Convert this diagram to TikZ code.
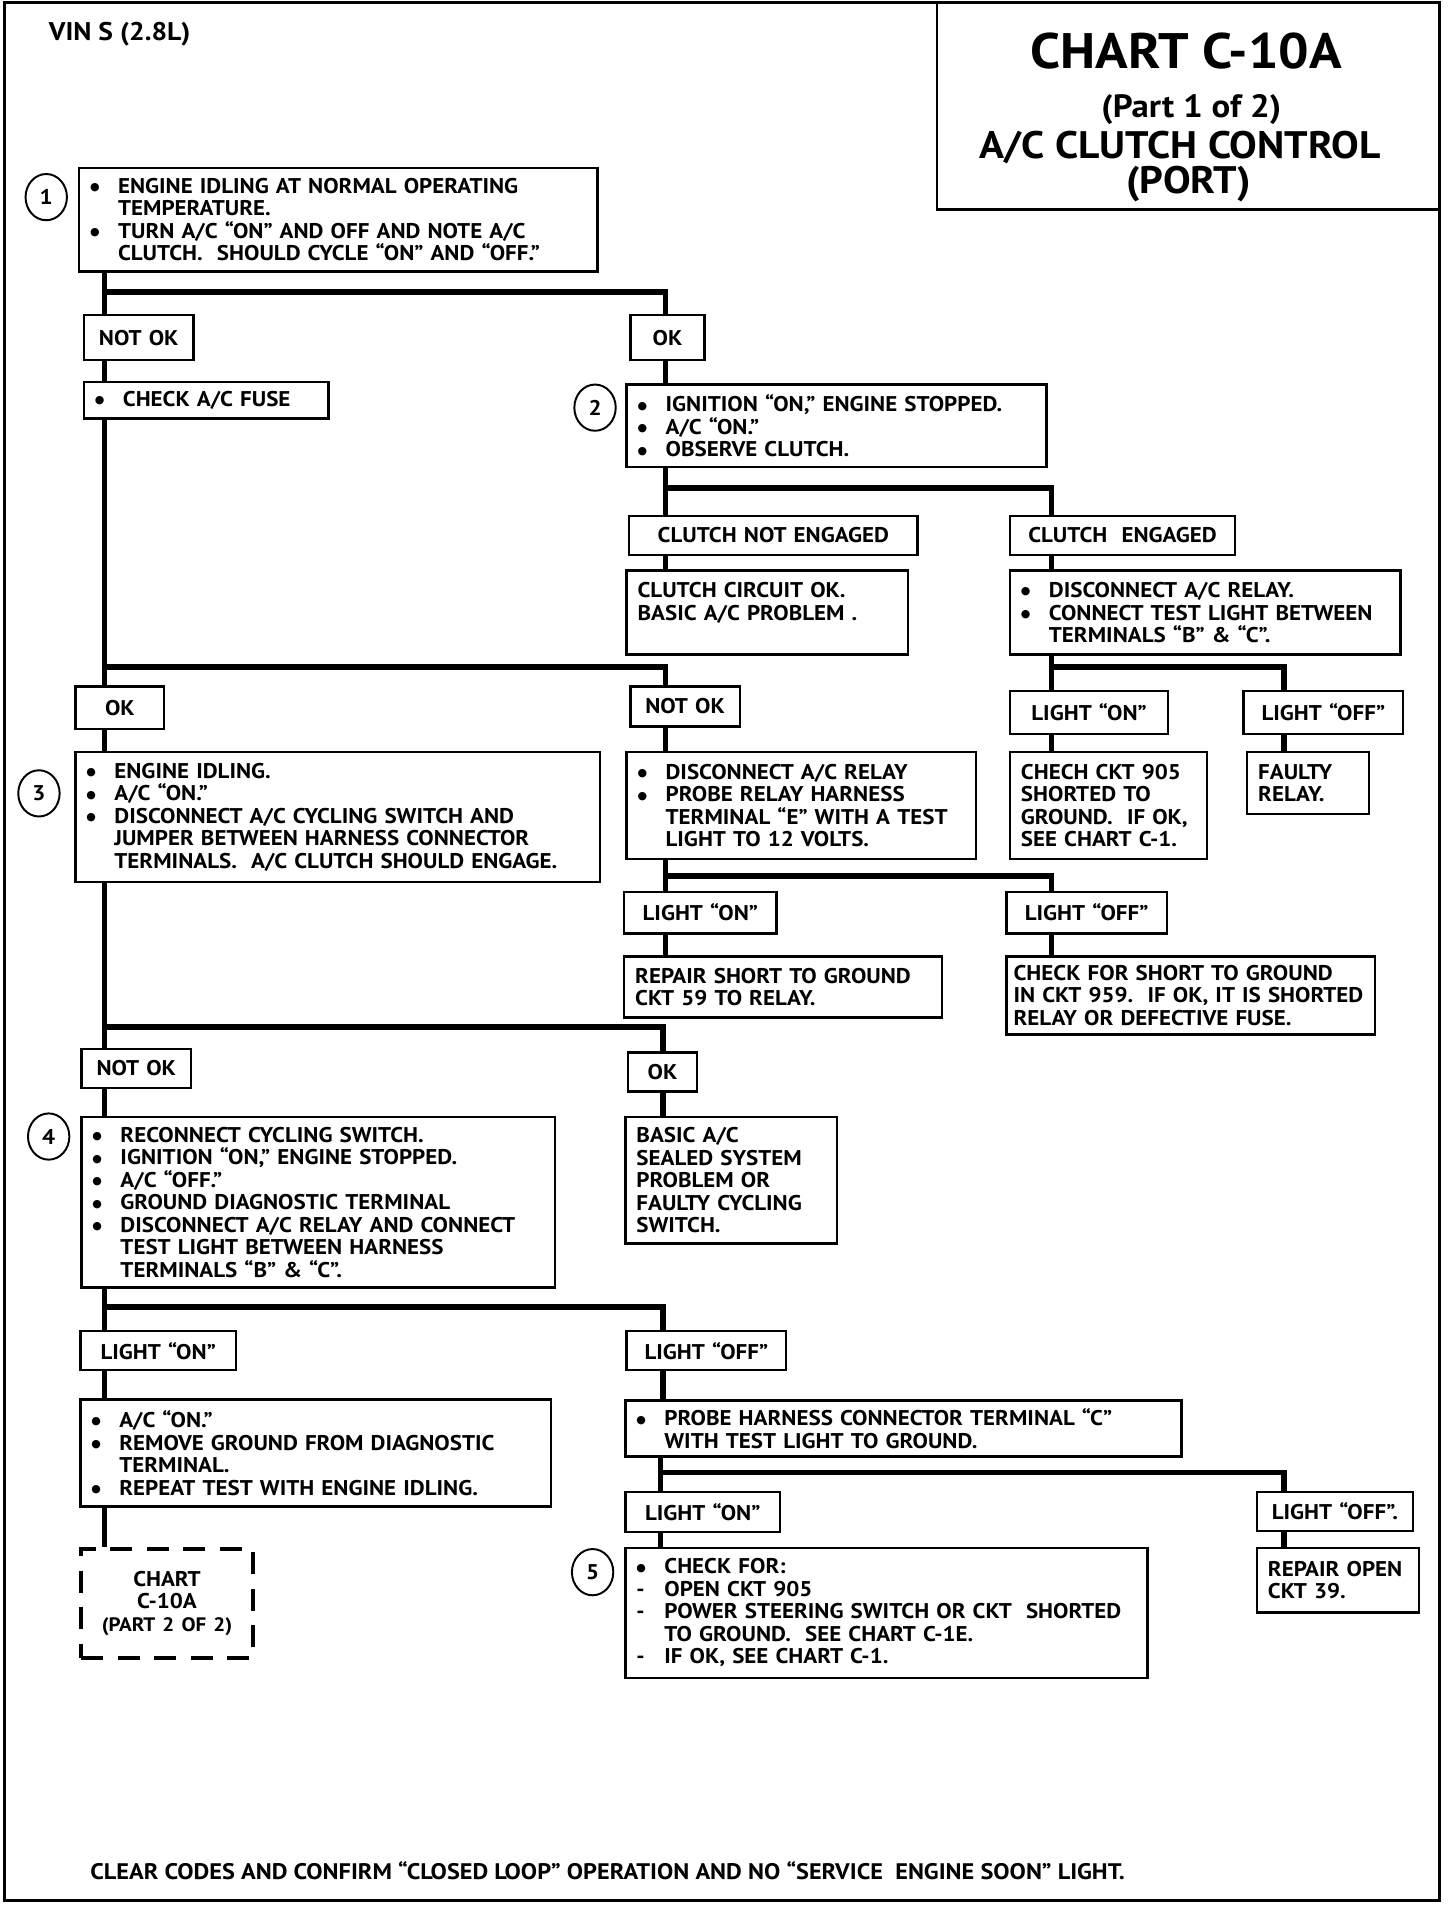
\documentclass[tikz,border=0pt]{standalone}
\usepackage{fontspec}
\setmainfont{PT Sans}[FakeStretch=1.08]
\newfontfamily\dotfont{DejaVu Sans}
\usetikzlibrary{shapes.geometric}
\newcommand{\bul}{\makebox[23pt][l]{\raisebox{2.2pt}{\dotfont\fontsize{9pt}{9pt}\selectfont ●}}}
\newcommand{\dsh}{\makebox[23pt][l]{-}}
\newcommand{\ind}{\hspace*{23pt}}
\newcommand{\boxfont}{\fontsize{17.5pt}{18.5pt}\selectfont\bfseries}
\tikzset{
  box/.style={draw, line width=2pt, fill=white, anchor=north west, align=left,
    inner xsep=9pt, inner ysep=0pt, font=\boxfont},
  lbl/.style={box, align=center},
  partbox/.style={lbl, line width=3.5pt, dash pattern=on 18pt off 12pt},
  trunk/.style={line width=4.5pt},
  num/.style={draw, ellipse, line width=1.6pt, minimum width=34pt, minimum height=38pt,
    inner sep=0pt, font=\boxfont},
  ttl/.style={inner sep=0pt, font=\bfseries\fontsize{#1}{#1}\selectfont},
}
\begin{document}
\begin{tikzpicture}[x=1pt,y=-1pt]
    \useasboundingbox (0,0) rectangle (1196,1568);
    \draw[line width=2.5pt] (4,2) rectangle (1183,1562);%外框
    \draw[line width=2pt] (770,2) rectangle (1183,172);
    \node[ttl=41pt] (t1) at (975,42) {CHART C-10A};
    \node[ttl=26.5pt] (t2) at (979,90) {(Part 1 of 2)};
    \node[ttl=31.5pt] (t3) at (970,121) {A/C CLUTCH CONTROL};
    \node[ttl=31.5pt] (t4) at (977,151) {(PORT)};
    \node[anchor=west,ttl=21pt] (vin) at (40,28) {VIN S (2.8L)};
    % 第一步
    \node[num] (c1) at (38,162) {1};
    \node[box, text width=408pt, minimum height=85pt] (s1) at (64,137) {\bul ENGINE IDLING AT NORMAL OPERATING\\ \ind TEMPERATURE.\\ \bul TURN A/C “ON” AND OFF AND NOTE A/C\\ \ind CLUTCH.\ \ SHOULD CYCLE “ON” AND “OFF.”};
    \node[lbl, text width=72pt, minimum height=37pt] (nok1) at (68,258) {NOT OK};
    \node[lbl, text width=43pt, minimum height=37pt] (ok1) at (517,258) {OK};
    \node[box, text width=183pt, minimum height=30pt] (fuse) at (68,313) {\bul CHECK A/C FUSE};
    % 第二步
    \node[num] (c2) at (489,335) {2};
    \node[box, text width=327pt, minimum height=68pt] (s2) at (514,315) {\bul IGNITION “ON,” ENGINE STOPPED.\\ \bul A/C “ON.”\\ \bul OBSERVE CLUTCH.};
    \node[lbl, text width=219pt, minimum height=32pt] (cne) at (516,423) {CLUTCH NOT ENGAGED};
    \node[lbl, text width=167pt, minimum height=32pt] (ce) at (829,423) {CLUTCH\ \ ENGAGED};
    \node[box, text width=213pt, minimum height=69pt] (cok) at (514,468) {CLUTCH CIRCUIT OK.\\ BASIC A/C PROBLEM .\\ \mbox{}};
    \node[box, text width=303pt, minimum height=69pt] (dr) at (829,468) {\bul DISCONNECT A/C RELAY.\\ \bul CONNECT TEST LIGHT BETWEEN\\ \ind TERMINALS “B” \& “C”.};
    \node[lbl, text width=112pt, minimum height=35pt] (lon1) at (829,567) {LIGHT “ON”};
    \node[lbl, text width=113pt, minimum height=35pt] (loff1) at (1021,567) {LIGHT “OFF”};
    \node[box, text width=144pt, minimum height=88pt] (chech) at (829,617) {CHECH CKT 905\\ SHORTED TO\\ GROUND.\ \ IF OK,\\ SEE CHART C-1.};
    \node[box, text width=82pt, minimum height=51pt] (faulty) at (1024,617) {FAULTY\\ RELAY.};
    % 第三步
    \node[lbl, text width=55pt, minimum height=35pt] (ok2) at (61,563) {OK};
    \node[lbl, text width=72pt, minimum height=33pt] (nok2) at (517,563) {NOT OK};
    \node[num] (c3) at (32,652) {3};
    \node[box, text width=413pt, minimum height=107pt] (s3) at (61,617) {\bul ENGINE IDLING.\\ \bul A/C “ON.”\\ \bul DISCONNECT A/C CYCLING SWITCH AND\\ \ind JUMPER BETWEEN HARNESS CONNECTOR\\ \ind TERMINALS.\ \ A/C CLUTCH SHOULD ENGAGE.};
    \node[box, text width=269pt, minimum height=88pt] (pr) at (514,617) {\bul DISCONNECT A/C RELAY\\ \bul PROBE RELAY HARNESS\\ \ind TERMINAL “E” WITH A TEST\\ \ind LIGHT TO 12 VOLTS.};
    \node[lbl, text width=107pt, minimum height=34pt] (lon2) at (512,732) {LIGHT “ON”};
    \node[lbl, text width=114pt, minimum height=34pt] (loff2) at (826,732) {LIGHT “OFF”};
    \node[box, text width=243pt, minimum height=50pt] (rs) at (512,785) {REPAIR SHORT TO GROUND\\ CKT 59 TO RELAY.};
    \node[box, inner xsep=6pt, text width=291pt, minimum height=64pt] (cfs) at (826,785) {CHECK FOR SHORT TO GROUND\\ IN CKT 959.\ \ IF OK, IT IS SHORTED\\ RELAY OR DEFECTIVE FUSE.};
    % 第四步
    \node[lbl, text width=72pt, minimum height=32pt] (nok3) at (66,861) {NOT OK};
    \node[lbl, text width=39pt, minimum height=32pt] (ok3) at (515,864) {OK};
    \node[num] (c4) at (40,934) {4};
    \node[box, text width=371pt, minimum height=140pt] (s4) at (66,917) {\bul RECONNECT CYCLING SWITCH.\\ \bul IGNITION “ON,” ENGINE STOPPED.\\ \bul A/C “OFF.”\\ \bul GROUND DIAGNOSTIC TERMINAL\\ \bul DISCONNECT A/C RELAY AND CONNECT\\ \ind TEST LIGHT BETWEEN HARNESS\\ \ind TERMINALS “B” \& “C”.};
    \node[box, text width=156pt, minimum height=104pt] (basic) at (513,917) {BASIC A/C\\ SEALED SYSTEM\\ PROBLEM OR\\ FAULTY CYCLING\\ SWITCH.};
    \node[lbl, text width=110pt, minimum height=32pt] (lon3) at (65,1093) {LIGHT “ON”};
    \node[lbl, text width=113pt, minimum height=32pt] (loff3) at (514,1093) {LIGHT “OFF”};
    \node[box, text width=369pt, minimum height=88pt] (acon) at (65,1149) {\bul A/C “ON.”\\ \bul REMOVE GROUND FROM DIAGNOSTIC\\ \ind TERMINAL.\\ \bul REPEAT TEST WITH ENGINE IDLING.};
    \node[partbox, text width=123pt, minimum height=90pt] (p2) at (65,1271) {CHART\\ C-10A\\ {\fontsize{16pt}{18.5pt}\selectfont (PART 2 OF 2)}};
    \node[box, text width=439pt, minimum height=46pt] (probe) at (513,1150) {\bul PROBE HARNESS CONNECTOR TERMINAL “C”\\ \ind WITH TEST LIGHT TO GROUND.};
    \node[lbl, text width=109pt, minimum height=33pt] (lon4) at (513,1225) {LIGHT “ON”};
    \node[lbl, text width=110pt, minimum height=32pt] (loff4) at (1032,1225) {LIGHT “OFF”.};
    % 第五步
    \node[num] (c5) at (487,1292) {5};
    \node[box, text width=411pt, minimum height=107pt] (s5) at (513,1271) {\bul CHECK FOR:\\ \dsh OPEN CKT 905\\ \dsh POWER STEERING SWITCH OR CKT\ \ SHORTED\\ \ind TO GROUND.\ \ SEE CHART C-1E.\\ \dsh IF OK, SEE CHART C-1.};
    \node[box, text width=115pt, minimum height=53pt] (ro) at (1032,1271) {REPAIR OPEN\\ CKT 39.};
    \node[anchor=west, inner sep=0pt, font=\bfseries\fontsize{18.5pt}{18.5pt}\selectfont] (foot) at (74,1537) {CLEAR CODES AND CONFIRM “CLOSED LOOP” OPERATION AND NO “SERVICE\ \ ENGINE SOON” LIGHT.};
    % 分支点
    \coordinate (j1a) at (86,240);   \coordinate (j1b) at (547,240);
    \coordinate (j2a) at (86,548);   \coordinate (j2b) at (547,548);
    \coordinate (j3a) at (547,401);  \coordinate (j3b) at (864,401);
    \coordinate (j4a) at (864,548);  \coordinate (j4b) at (1055,548);
    \coordinate (j5a) at (547,720);  \coordinate (j5b) at (864,720);
    \coordinate (j6a) at (86,844);   \coordinate (j6b) at (545,844);
    \coordinate (j7a) at (86,1074);  \coordinate (j7b) at (545,1074);
    \coordinate (j8a) at (543,1210); \coordinate (j8b) at (1055,1210);
    % 连线
    \draw[trunk] (s1.south -| j1a) -- (nok1.north -| j1a);
    \draw[trunk] (j1a) -- (j1b) -- (ok1.north -| j1b);
    \draw[trunk] (nok1.south -| j1a) -- (fuse.north -| j1a);
    \draw[trunk] (ok1.south -| j1b) -- (s2.north -| j1b);
    \draw[trunk] (fuse.south -| j2a) -- (ok2.north -| j2a);
    \draw[trunk] (j2a) -- (j2b) -- (nok2.north -| j2b);
    \draw[trunk] (s2.south -| j3a) -- (cne.north -| j3a);
    \draw[trunk] (j3a) -- (j3b) -- (ce.north -| j3b);
    \draw[trunk] (cne.south -| j3a) -- (cok.north -| j3a);
    \draw[trunk] (ce.south -| j3b) -- (dr.north -| j3b);
    \draw[trunk] (dr.south -| j4a) -- (lon1.north -| j4a);
    \draw[trunk] (j4a) -- (j4b) -- (loff1.north -| j4b);
    \draw[trunk] (lon1.south -| j4a) -- (chech.north -| j4a);
    \draw[trunk] (loff1.south -| j4b) -- (faulty.north -| j4b);
    \draw[trunk] (ok2.south -| j2a) -- (s3.north -| j2a);
    \draw[trunk] (nok2.south -| j2b) -- (pr.north -| j2b);
    \draw[trunk] (pr.south -| j5a) -- (lon2.north -| j5a);
    \draw[trunk] (j5a) -- (j5b) -- (loff2.north -| j5b);
    \draw[trunk] (lon2.south -| j5a) -- (rs.north -| j5a);
    \draw[trunk] (loff2.south -| j5b) -- (cfs.north -| j5b);
    \draw[trunk] (s3.south -| j6a) -- (nok3.north -| j6a);
    \draw[trunk] (j6a) -- (j6b) -- (ok3.north -| j6b);
    \draw[trunk] (nok3.south -| j6a) -- (s4.north -| j6a);
    \draw[trunk] (ok3.south -| j6b) -- (basic.north -| j6b);
    \draw[trunk] (s4.south -| j7a) -- (lon3.north -| j7a);
    \draw[trunk] (j7a) -- (j7b) -- (loff3.north -| j7b);
    \draw[trunk] (lon3.south -| j7a) -- (acon.north -| j7a);
    \draw[trunk] (acon.south -| j7a) -- (p2.north -| j7a);
    \draw[trunk] (loff3.south -| j7b) -- (probe.north -| j7b);
    \draw[trunk] (probe.south -| j8a) -- (lon4.north -| j8a);
    \draw[trunk] (j8a) -- (j8b) -- (loff4.north -| j8b);
    \draw[trunk] (lon4.south -| j8a) -- (s5.north -| j8a);
    \draw[trunk] (loff4.south -| j8b) -- (ro.north -| j8b);
\end{tikzpicture}
\end{document}
